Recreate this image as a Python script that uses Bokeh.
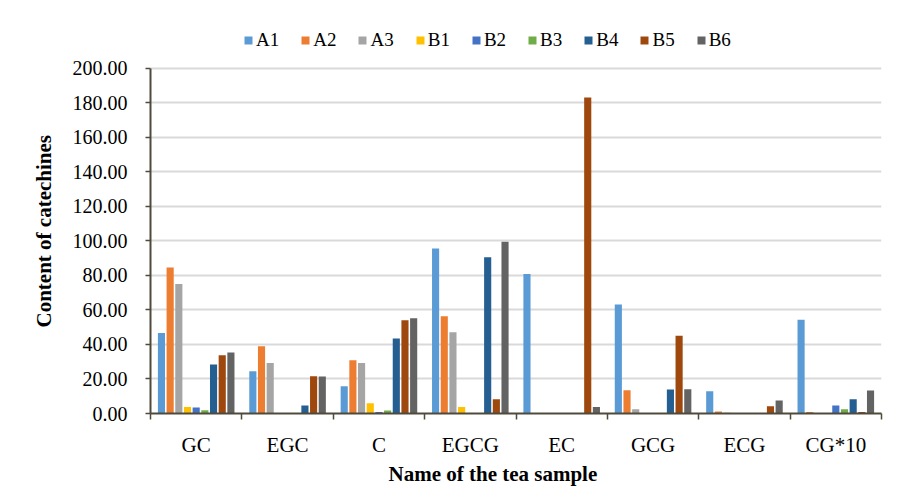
from bokeh.plotting import figure
from bokeh.models import (Range1d, FixedTicker, Legend, LegendItem, Title,
                          NumeralTickFormatter)
from bokeh.embed import file_html
from bokeh.resources import INLINE

categories = ["GC", "EGC", "C", "EGCG", "EC", "GCG", "ECG", "CG*10"]
series_names = ["A1", "A2", "A3", "B1", "B2", "B3", "B4", "B5", "B6"]
colors = ["#5b9bd5", "#ed7d31", "#a5a5a5", "#ffc000", "#4472c4",
          "#70ad47", "#255e91", "#9e480e", "#636363"]

A1 = [46.7, 24.5, 15.8, 95.6, 80.8, 63.2, 12.9, 54.3]
A2 = [84.6, 39.0, 30.9, 56.4, 0.0, 13.5, 1.1, 0.8]
A3 = [75.0, 29.2, 29.2, 47.1, 0.0, 2.5, 0.5, 0.3]
B1 = [3.8, 0.0, 6.0, 3.7, 0.0, 0.0, 0.0, 0.3]
B2 = [3.5, 0.0, 0.8, 0.0, 0.0, 0.0, 0.0, 4.6]
B3 = [1.9, 0.3, 1.7, 0.0, 0.0, 0.0, 0.0, 2.5]
B4 = [28.4, 4.6, 43.5, 90.6, 0.0, 13.9, 0.0, 8.3]
B5 = [33.8, 21.6, 54.1, 8.3, 183.2, 45.0, 4.2, 0.8]
B6 = [35.3, 21.4, 55.2, 99.5, 3.7, 14.1, 7.5, 13.3]
series_values = [A1, A2, A3, B1, B2, B3, B4, B5, B6]

y_ticks = [0, 20, 40, 60, 80, 100, 120, 140, 160, 180, 200]

FONT = "Liberation Serif"
AXIS_COLOR = "#4e4a3c"

p = figure(width=903, height=494, output_backend="svg", toolbar_location=None,
           x_range=Range1d(0, len(categories)), y_range=Range1d(0, 227.8),
           min_border_left=150, min_border_right=22, min_border_top=20,
           min_border_bottom=81)
p.outline_line_color = None

# y axis
yax = p.yaxis[0]
yax.bounds = (0, 200)
yax.ticker = FixedTicker(ticks=y_ticks)
yax.formatter = NumeralTickFormatter(format="0.00")
yax.major_label_text_font = FONT
yax.major_label_text_font_size = "20px"
yax.major_label_text_color = "black"
yax.major_tick_out = 5
yax.major_tick_in = 0
yax.minor_tick_line_color = None
yax.axis_line_color = AXIS_COLOR
yax.axis_line_width = 2
yax.major_tick_line_color = AXIS_COLOR
yax.major_tick_line_width = 1.5
yax.major_label_standoff = 18

p.ygrid.ticker = FixedTicker(ticks=y_ticks[1:])
p.ygrid.grid_line_color = "#d9d9d9"
p.ygrid.grid_line_width = 2
p.xgrid.grid_line_color = None

# x axis: labels at group centres, ticks at group boundaries
centers = [i + 0.5 for i in range(len(categories))]
bounds = list(range(len(categories) + 1))
xax = p.xaxis[0]
xax.ticker = FixedTicker(ticks=centers, minor_ticks=bounds)
xax.major_label_overrides = {c: name for c, name in zip(centers, categories)}
xax.major_label_text_font = FONT
xax.major_label_text_font_size = "21px"
xax.major_label_text_color = "black"
xax.axis_line_color = AXIS_COLOR
xax.axis_line_width = 2
xax.major_tick_line_color = None
xax.major_tick_out = 6
xax.minor_tick_line_color = AXIS_COLOR
xax.minor_tick_line_width = 1.5
xax.minor_tick_out = 6
xax.minor_tick_in = 0
xax.major_label_standoff = 13

slot = 0.095
bar_w = 0.078
items = []
for j, (name, vals, col) in enumerate(zip(series_names, series_values, colors)):
    xs = [i + 0.5 + (j - 4) * slot for i in range(len(categories))]
    r = p.vbar(x=xs, top=vals, width=bar_w, bottom=0, fill_color=col, line_color=None)
    items.append(LegendItem(label=name, renderers=[r]))

legend = Legend(items=items, orientation="horizontal", location=(93, 362))
legend.label_text_font = FONT
legend.label_text_font_size = "19px"
legend.label_text_color = "black"
legend.glyph_width = 10
legend.glyph_height = 10
legend.label_standoff = 3
legend.spacing = 21
legend.padding = 0
legend.margin = 0
legend.border_line_color = None
legend.background_fill_alpha = 0
p.add_layout(legend)

ytitle = Title(text="Content of catechines", align="left", offset=86, standoff=28,
               text_font=FONT, text_font_size="21px", text_font_style="bold",
               text_color="black")
xtitle = Title(text="Name of the tea sample", align="left", offset=238, standoff=0,
               text_font=FONT, text_font_size="21px", text_font_style="bold",
               text_color="black")
p.add_layout(ytitle, "left")
p.add_layout(xtitle, "below")

open("out.html", "w").write(file_html(p, INLINE))
